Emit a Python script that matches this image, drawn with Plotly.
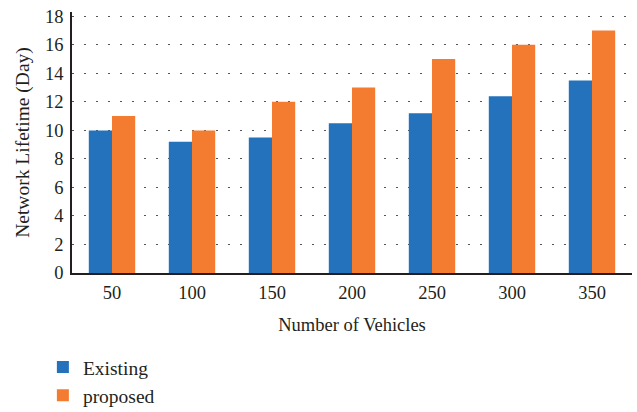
import plotly.graph_objects as go

categories = ["50", "100", "150", "200", "250", "300", "350"]
existing = [10, 9.2, 9.5, 10.5, 11.2, 12.4, 13.5]
proposed = [11, 10, 12, 13, 15, 16, 17]
y_ticks = [0, 2, 4, 6, 8, 10, 12, 14, 16, 18]

FONT = "Liberation Serif"
TXT = "#231F20"

fig = go.Figure()
fig.add_trace(go.Bar(x=categories, y=existing, name="Existing",
                     marker=dict(color="#2372BB", line=dict(width=0))))
fig.add_trace(go.Bar(x=categories, y=proposed, name="proposed",
                     marker=dict(color="#F47C30", line=dict(width=0))))

fig.update_layout(
    width=637, height=412,
    margin=dict(l=72, r=5, t=12, b=139, autoexpand=False),
    paper_bgcolor="white", plot_bgcolor="white",
    barmode="group", bargap=0.42, bargroupgap=0,
    font=dict(family=FONT, size=18, color=TXT),
    legend=dict(orientation="v", x=-0.052, y=0.156, xanchor="left", yanchor="top",
                yref="container",
                font=dict(family=FONT, size=19.5, color=TXT),
                itemwidth=30),
    showlegend=True,
)
fig.update_xaxes(
    showline=True, linecolor=TXT, linewidth=1.5,
    ticks="", showgrid=False, ticklabelstandoff=2, automargin=False,
    title=dict(text="Number of Vehicles", standoff=16,
               font=dict(family=FONT, size=18.5)),
    tickfont=dict(family=FONT, size=18.5),
)
fig.update_yaxes(
    range=[0, 18.3], tickvals=y_ticks,
    showline=True, linecolor=TXT, linewidth=1.5,
    ticks="", showgrid=True, gridcolor="#555555", gridwidth=1,
    griddash="2px,10px", zeroline=False, ticklabelstandoff=3, automargin=False,
    title=dict(text="Network Lifetime (Day)", standoff=10,
               font=dict(family=FONT, size=19.5)),
    tickfont=dict(family=FONT, size=18.5),
)

fig.write_html("out.html")
